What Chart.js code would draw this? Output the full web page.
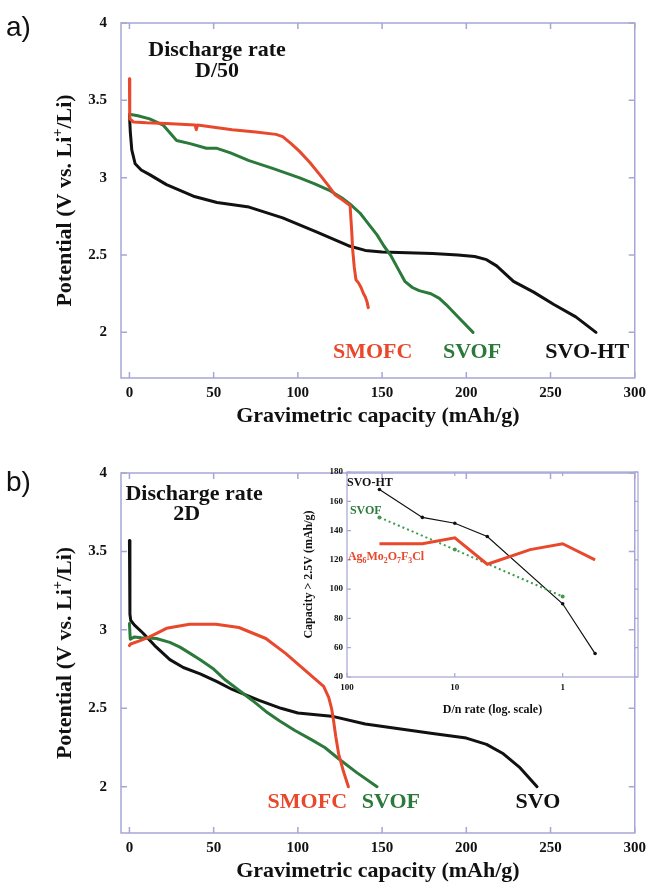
<!DOCTYPE html>
<html><head><meta charset="utf-8">
<script src="https://cdn.jsdelivr.net/npm/chart.js@4.4.1/dist/chart.umd.min.js"></script>
<style>
html,body{margin:0;padding:0;background:#fff;}
#wrap{position:relative;width:652px;height:883px;overflow:hidden;background:#fff;}
canvas{position:absolute;}
</style></head>
<body><div id="wrap">
<canvas id="ca" width="652" height="438" style="left:0;top:0"></canvas>
<canvas id="cb" width="652" height="443" style="left:0;top:440px"></canvas>
<canvas id="ci" width="362" height="262" style="left:290px;top:458px"></canvas>
</div>
<script>
// ---------- DATA ----------
const capTicks = [0, 50, 100, 150, 200, 250, 300];
const potTicks = [2, 2.5, 3, 3.5, 4];

// Panel a) discharge D/50
const aSvoCap = [0, 0.5, 1.4, 3.4, 7, 12, 22, 38, 52, 71, 91, 111, 130, 140, 150, 165, 180, 195, 205, 212, 218, 228, 240, 252, 265, 277];
const aSvoV   = [3.41, 3.30, 3.18, 3.09, 3.05, 3.02, 2.955, 2.88, 2.84, 2.81, 2.74, 2.65, 2.56, 2.53, 2.52, 2.515, 2.51, 2.50, 2.49, 2.47, 2.43, 2.33, 2.26, 2.18, 2.10, 2.00];
const aSmoCap = [0, 0.2, 2.4, 10, 22, 39, 39.7, 40.4, 61, 75, 87, 91, 96, 101, 107, 113, 118, 122, 126, 131, 132, 132.5, 133.5, 134.5, 136, 137.5, 139, 140, 141, 141.8];
const aSmoV   = [3.64, 3.38, 3.36, 3.355, 3.35, 3.34, 3.31, 3.34, 3.31, 3.295, 3.28, 3.265, 3.22, 3.17, 3.10, 3.02, 2.95, 2.89, 2.86, 2.82, 2.65, 2.54, 2.42, 2.34, 2.32, 2.29, 2.25, 2.23, 2.20, 2.16];
const aSvofCap = [0, 5, 12, 20, 24, 28, 36, 45.7, 52, 60, 71, 85, 100.7, 110, 118.4, 126, 132, 137, 142, 147, 151, 155, 159, 163.5, 168, 172, 179, 184, 188, 196, 204];
const aSvofV   = [3.41, 3.40, 3.38, 3.34, 3.29, 3.24, 3.22, 3.19, 3.19, 3.16, 3.11, 3.06, 3.00, 2.96, 2.92, 2.87, 2.82, 2.77, 2.70, 2.63, 2.56, 2.50, 2.42, 2.33, 2.29, 2.27, 2.25, 2.22, 2.18, 2.09, 2.00];

// Panel b) discharge 2D
const bSvoCap = [0, 0.3, 0.8, 3, 8, 15, 24, 32, 42, 52, 61, 77, 90, 100, 120, 140, 160, 180, 200, 212, 222, 232, 242];
const bSvoV   = [3.57, 3.10, 3.06, 3.03, 2.98, 2.90, 2.81, 2.76, 2.72, 2.67, 2.62, 2.55, 2.50, 2.47, 2.45, 2.40, 2.37, 2.34, 2.31, 2.27, 2.21, 2.12, 2.00];
const bSmoCap = [0, 0.7, 6, 12, 22, 35.7, 51.4, 65, 81, 92.7, 104.5, 115.3, 118.3, 120, 121.2, 122.5, 124.2, 127, 130];
const bSmoV   = [2.90, 2.91, 2.93, 2.955, 3.01, 3.036, 3.036, 3.015, 2.945, 2.85, 2.74, 2.64, 2.57, 2.50, 2.42, 2.32, 2.21, 2.10, 2.00];
const bSvofCap = [0, 0.5, 3, 7, 16, 24, 30, 36, 42, 50, 57, 65, 73, 81, 89, 98, 108, 116, 124, 135, 147];
const bSvofV   = [3.04, 2.94, 2.955, 2.95, 2.945, 2.92, 2.89, 2.85, 2.81, 2.75, 2.68, 2.615, 2.55, 2.48, 2.42, 2.36, 2.30, 2.25, 2.18, 2.09, 2.00];

// Inset: capacity above 2.5 V vs D/n rate
const insRateTicks = [100, 10, 1];
const insCapTicks = [40, 60, 80, 100, 120, 140, 160, 180];
const svoHtRate = [50, 20, 10, 5, 1, 0.5];
const svoHtCap  = [168, 149, 145, 136, 90, 56];
const svofRate  = [50, 10, 1];
const svofCap   = [149, 127, 95];
const agRate    = [50, 20, 10, 5, 2, 1, 0.5];
const agCap     = [131, 131, 135, 117, 127, 131, 120];

// ---------- STYLE ----------
const RED = '#e8482c', GREEN = '#2b7a3b', BLACK = '#111111', AXIS = '#a6a6d6';
const SERIF = '"Liberation Serif", "Times New Roman", serif';
const pts = (xs, ys) => xs.map((x, i) => ({x, y: ys[i]}));

function drawRich(ctx, it) {
  const size = it.size, w = it.weight || 'bold', fam = it.family || SERIF;
  ctx.save();
  ctx.translate(it.px, it.py);
  if (it.rot) ctx.rotate(it.rot);
  ctx.fillStyle = it.color || BLACK;
  ctx.textBaseline = 'alphabetic';
  ctx.textAlign = 'left';
  const segs = it.parts.map(p => {
    const s = (p.sup || p.sub) ? size * 0.65 : size;
    ctx.font = `${w} ${s}px ${fam}`;
    return {t: p.t, sup: p.sup, sub: p.sub, s, w: ctx.measureText(p.t).width};
  });
  const total = segs.reduce((a, b) => a + b.w, 0);
  let cx = it.align === 'left' ? 0 : it.align === 'right' ? -total : -total / 2;
  const base = size * 0.34;
  segs.forEach(sg => {
    ctx.font = `${w} ${sg.s}px ${fam}`;
    const dy = sg.sup ? -size * 0.42 : sg.sub ? size * 0.22 : 0;
    ctx.fillText(sg.t, cx, base + dy);
    cx += sg.w;
  });
  ctx.restore();
}

const framePlugin = {
  id: 'frame',
  afterDraw(chart, args, opts) {
    const {ctx, chartArea: a, scales} = chart;
    const xs = scales.x, ys = scales.y;
    ctx.save();
    ctx.strokeStyle = AXIS;
    ctx.lineWidth = opts.lw || 1.5;
    ctx.strokeRect(a.left, a.top, a.right - a.left, a.bottom - a.top);
    const L = opts.tick || 6;
    ctx.beginPath();
    xs.ticks.forEach(t => {
      const p = xs.getPixelForValue(t.value);
      ctx.moveTo(p, a.bottom); ctx.lineTo(p, a.bottom - L);
      ctx.moveTo(p, a.top); ctx.lineTo(p, a.top + L);
    });
    ys.ticks.forEach(t => {
      const p = ys.getPixelForValue(t.value);
      ctx.moveTo(a.left, p); ctx.lineTo(a.left + L, p);
      ctx.moveTo(a.right, p); ctx.lineTo(a.right - L, p);
    });
    ctx.stroke();
    ctx.restore();
    (opts.texts || []).forEach(it => {
      const o = Object.assign({}, it);
      if (it.dx !== undefined) o.px = xs.getPixelForValue(it.dx);
      if (it.dy !== undefined) o.py = ys.getPixelForValue(it.dy);
      if (it.xTitle) { o.px = (a.left + a.right) / 2; o.py = a.bottom + it.off; }
      if (it.yTitle) { o.py = (a.top + a.bottom) / 2; }
      drawRich(ctx, o);
    });
  }
};

const fmt = v => String(Number(v));

function mainOptions(padTop, xAxisH, texts) {
  return {
    responsive: false, animation: false, devicePixelRatio: 1,
    layout: {padding: {left: 0, top: padTop, right: 15, bottom: 0}},
    plugins: {legend: {display: false}, tooltip: {enabled: false}, frame: {texts, tick: 6}},
    scales: {
      x: {
        type: 'linear', min: -5, max: 300,
        grid: {display: false, drawTicks: false, tickLength: 0}, border: {display: false},
        ticks: {color: BLACK, padding: 6, maxRotation: 0, font: {family: SERIF, size: 15, weight: 'bold'}, callback: fmt},
        afterBuildTicks: s => { s.ticks = capTicks.map(v => ({value: v})); },
        afterFit: s => { s.height = xAxisH; }
      },
      y: {
        type: 'linear', min: 1.705, max: 4,
        grid: {display: false, drawTicks: false, tickLength: 0}, border: {display: false},
        ticks: {color: BLACK, padding: 14, font: {family: SERIF, size: 15, weight: 'bold'}, callback: fmt},
        afterBuildTicks: s => { s.ticks = potTicks.map(v => ({value: v})); },
        afterFit: s => { s.width = 121; }
      }
    }
  };
}
const line = (data, color, w) => ({data, showLine: true, borderColor: color, backgroundColor: color, borderWidth: w || 3, pointRadius: 0, tension: 0, borderJoinStyle: 'round', borderCapStyle: 'round'});

const yTitleParts = [{t: 'Potential (V vs. Li'}, {t: '+', sup: true}, {t: '/Li)'}];
const xTitleParts = [{t: 'Gravimetric capacity (mAh/g)'}];

// ---------- Chart a ----------
new Chart(document.getElementById('ca'), {
  type: 'scatter',
  data: {datasets: [
    line(pts(aSmoCap, aSmoV), RED),
    line(pts(aSvofCap, aSvofV), GREEN),
    line(pts(aSvoCap, aSvoV), BLACK)
  ]},
  options: mainOptions(18, 60, [
    {parts: [{t: 'a)'}], px: 6, py: 26, size: 28, weight: 'normal', family: '"Liberation Sans", Arial, sans-serif', align: 'left'},
    {parts: [{t: 'Discharge rate'}], dx: 52, dy: 3.835, size: 22},
    {parts: [{t: 'D/50'}], dx: 52, dy: 3.70, size: 22},
    {parts: [{t: 'SMOFC'}], dx: 144.4, dy: 1.885, size: 22, color: RED},
    {parts: [{t: 'SVOF'}], dx: 203.4, dy: 1.885, size: 22, color: GREEN},
    {parts: [{t: 'SVO-HT'}], dx: 271.8, dy: 1.885, size: 22, color: BLACK},
    {parts: xTitleParts, xTitle: true, off: 37, size: 22},
    {parts: yTitleParts, yTitle: true, px: 64, rot: -Math.PI / 2, size: 22}
  ])
  , plugins: [framePlugin]
});

// ---------- Chart b ----------
new Chart(document.getElementById('cb'), {
  type: 'scatter',
  data: {datasets: [
    line(pts(bSmoCap, bSmoV), RED),
    line(pts(bSvofCap, bSvofV), GREEN),
    line(pts(bSvoCap, bSvoV), BLACK)
  ]},
  options: mainOptions(33, 50, [
    {parts: [{t: 'b)'}], px: 6, py: 41, size: 28, weight: 'normal', family: '"Liberation Sans", Arial, sans-serif', align: 'left'},
    {parts: [{t: 'Discharge rate'}], dx: 38.4, dy: 3.875, size: 22},
    {parts: [{t: '2D'}], dx: 34, dy: 3.745, size: 22},
    {parts: [{t: 'SMOFC'}], dx: 105.6, dy: 1.915, size: 22, color: RED},
    {parts: [{t: 'SVOF'}], dx: 155.2, dy: 1.915, size: 22, color: GREEN},
    {parts: [{t: 'SVO'}], dx: 242.5, dy: 1.915, size: 22, color: BLACK},
    {parts: xTitleParts, xTitle: true, off: 37, size: 22},
    {parts: yTitleParts, yTitle: true, px: 64, rot: -Math.PI / 2, size: 22}
  ])
  , plugins: [framePlugin]
});

// ---------- Inset ----------
new Chart(document.getElementById('ci'), {
  type: 'scatter',
  data: {datasets: [
    {data: pts(agRate, agCap), showLine: true, borderColor: RED, borderWidth: 3, pointRadius: 0, tension: 0},
    {data: pts(svofRate, svofCap), showLine: true, borderColor: '#3f9a4e', backgroundColor: '#3f9a4e', borderWidth: 2, borderDash: [2, 3], pointRadius: 2, pointBorderWidth: 0, tension: 0},
    {data: pts(svoHtRate, svoHtCap), showLine: true, borderColor: BLACK, backgroundColor: BLACK, borderWidth: 1.2, pointRadius: 1.8, pointBorderWidth: 0, tension: 0}
  ]},
  options: {
    responsive: false, animation: false, devicePixelRatio: 1,
    layout: {padding: {left: 0, top: 14, right: 14, bottom: 0}},
    plugins: {legend: {display: false}, tooltip: {enabled: false}, frame: {tick: 4, lw: 1.2, texts: [
      {parts: [{t: 'SVO-HT'}], dx: 100, dy: 173.5, size: 12, align: 'left', color: BLACK},
      {parts: [{t: 'SVOF'}], dx: 94, dy: 154, size: 12, align: 'left', color: GREEN},
      {parts: [{t: 'Ag'}, {t: '6', sub: true}, {t: 'Mo'}, {t: '2', sub: true}, {t: 'O'}, {t: '7', sub: true}, {t: 'F'}, {t: '3', sub: true}, {t: 'Cl'}], dx: 98, dy: 122.6, size: 12, align: 'left', color: RED},
      {parts: [{t: 'D/n rate (log. scale)'}], xTitle: true, off: 32, size: 12},
      {parts: [{t: 'Capacity > 2.5V (mAh/g)'}], yTitle: true, px: 18, rot: -Math.PI / 2, size: 12}
    ]}},
    scales: {
      x: {
        type: 'logarithmic', min: 0.2, max: 100, reverse: true,
        grid: {display: false, drawTicks: false, tickLength: 0}, border: {display: false},
        ticks: {color: BLACK, padding: 5, maxRotation: 0, font: {family: SERIF, size: 9, weight: 'bold'}, callback: fmt},
        afterBuildTicks: s => { s.ticks = insRateTicks.map(v => ({value: v})); },
        afterFit: s => { s.height = 43; }
      },
      y: {
        type: 'linear', min: 40, max: 180,
        grid: {display: false, drawTicks: false, tickLength: 0}, border: {display: false},
        ticks: {color: BLACK, padding: 4, font: {family: SERIF, size: 9, weight: 'bold'}, callback: fmt},
        afterBuildTicks: s => { s.ticks = insCapTicks.map(v => ({value: v})); },
        afterFit: s => { s.width = 57; }
      }
    }
  },
  plugins: [framePlugin]
});
</script>
</body></html>
